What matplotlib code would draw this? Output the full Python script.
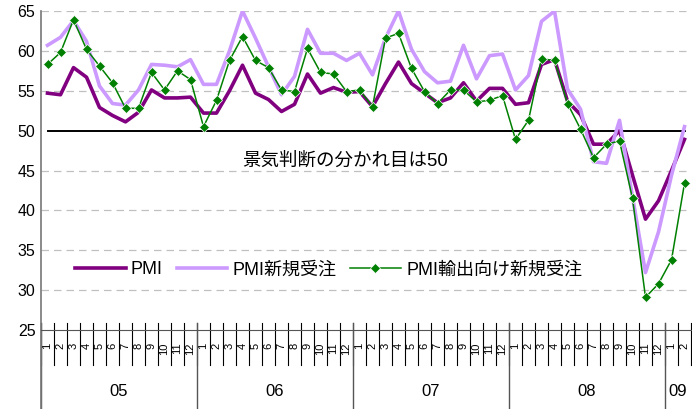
import matplotlib
matplotlib.use('Agg')
import matplotlib.pyplot as plt
import matplotlib.transforms as mtransforms

plt.rcParams['font.family'] = ['Liberation Sans', 'Noto Sans CJK JP']

# Data: monthly, 2005-01 .. 2009-02
years = ['05', '06', '07', '08', '09']
months_per_year = [12, 12, 12, 12, 2]
month_labels = [str(m) for n in months_per_year for m in range(1, n + 1)]

pmi = [54.7, 54.5, 57.9, 56.7, 52.9, 51.9, 51.1, 52.3, 55.1, 54.1, 54.1, 54.2,
       52.2, 52.2, 55.0, 58.2, 54.7, 53.9, 52.4, 53.3, 57.1, 54.7, 55.4, 54.8,
       54.9, 53.0, 55.9, 58.6, 55.9, 54.7, 53.5, 54.1, 56.0, 53.7, 55.3, 55.3,
       53.3, 53.5, 58.3, 58.9, 53.7, 52.0, 48.3, 48.3, 50.0, 44.4, 38.9, 41.2,
       45.0, 48.9]
new_orders = [60.7, 61.7, 63.8, 61.2, 55.6, 53.4, 53.2, 55.1, 58.3, 58.2, 58.0, 58.9,
              55.8, 55.8, 60.0, 65.0, 61.6, 58.0, 54.5, 56.8, 62.7, 59.7, 59.7, 58.8,
              59.7, 57.0, 61.6, 65.0, 60.2, 57.4, 56.0, 56.2, 60.7, 56.5, 59.4, 59.6,
              55.1, 56.9, 63.7, 65.0, 55.2, 52.7, 46.1, 45.9, 51.3, 41.7, 32.2, 37.3,
              44.4, 50.5]
export_orders = [58.3, 59.8, 63.9, 60.2, 58.1, 56.0, 52.8, 52.8, 57.3, 55.1, 57.5, 56.4,
                 50.5, 53.8, 58.8, 61.8, 58.8, 57.9, 55.1, 54.9, 60.3, 57.3, 57.1, 54.9,
                 55.1, 53.0, 61.6, 62.2, 57.8, 54.9, 53.4, 55.1, 55.1, 53.6, 53.8, 54.4,
                 48.9, 51.3, 59.0, 58.8, 53.4, 50.2, 46.6, 48.3, 48.7, 41.5, 29.1, 30.8,
                 33.8, 43.4]
threshold = 50

x = list(range(len(pmi)))

W, H = 692, 409
fig = plt.figure(figsize=(W / 100, H / 100), dpi=100)
# axes box in pixels: left 41, right 691, top 11, bottom 330
ax = fig.add_axes([41 / W, 1 - 330 / H, 650 / W, 319 / H])


def py(p):
    """pixel y (from top of figure) -> axes fraction"""
    return (330 - p) / 319


ax.set_xlim(-0.5, len(x) - 0.5)
ax.set_ylim(25, 65)
ax.set_yticks(range(25, 70, 5))
for v in range(30, 70, 5):
    if v != threshold:
        ax.axhline(v, color='#c0c0c0', lw=0.9, ls=(0, (6, 4)), zorder=0)

ax.plot([x[0], x[-1]], [threshold, threshold], color='black', lw=1.4, zorder=1)

ax.plot(x, pmi, color='#800080', lw=2.6, label='PMI', zorder=2)
ax.plot(x, new_orders, color='#cc99ff', lw=2.6, label='PMI新規受注', zorder=3)
ax.plot(x, export_orders, color='#008000', lw=1.1, marker='D', ms=5,
        mec='white', mew=0.5, label='PMI輸出向け新規受注', zorder=4)

ax.text(22.9, 46.2, '景気判断の分かれ目は50', ha='center', va='center', fontsize=13.3)

ax.legend(loc='center left', bbox_to_anchor=(34 / 650, py(270)), ncol=3, frameon=False,
          fontsize=13, handlelength=2.8, columnspacing=0.75, handletextpad=0.3,
          borderaxespad=0, borderpad=0)

for s in ['top', 'right']:
    ax.spines[s].set_visible(False)
ax.spines['left'].set_visible(False)
ax.spines['bottom'].set_color('#555555')
ax.tick_params(axis='y', length=0, labelsize=11.5, pad=4)

ax.set_xticks(x)
ax.set_xticklabels(month_labels, rotation=90, fontsize=8)
ax.tick_params(axis='x', length=0, pad=9)

trans = mtransforms.blended_transform_factory(ax.transData, ax.transAxes)
# month separators
for b in range(len(x) + 1):
    ax.plot([b - 0.5, b - 0.5], [py(323), py(365)], transform=trans, color='black',
            lw=0.8, clip_on=False)
# year separators and labels
start = 0
for yr, n in zip(years, months_per_year):
    ax.plot([start - 0.5, start - 0.5], [py(323), py(409)], transform=trans,
            color='#555555', lw=1.0, clip_on=False)
    ax.text(start - 0.5 + n / 2, py(392), yr, transform=trans, ha='center',
            va='center', fontsize=12)
    start += n
# left axis line
ax.plot([-0.5, -0.5], [py(409), 1.0], transform=trans, color='#777777', lw=1.2,
        clip_on=False)

fig.savefig('out.png', dpi=100)
